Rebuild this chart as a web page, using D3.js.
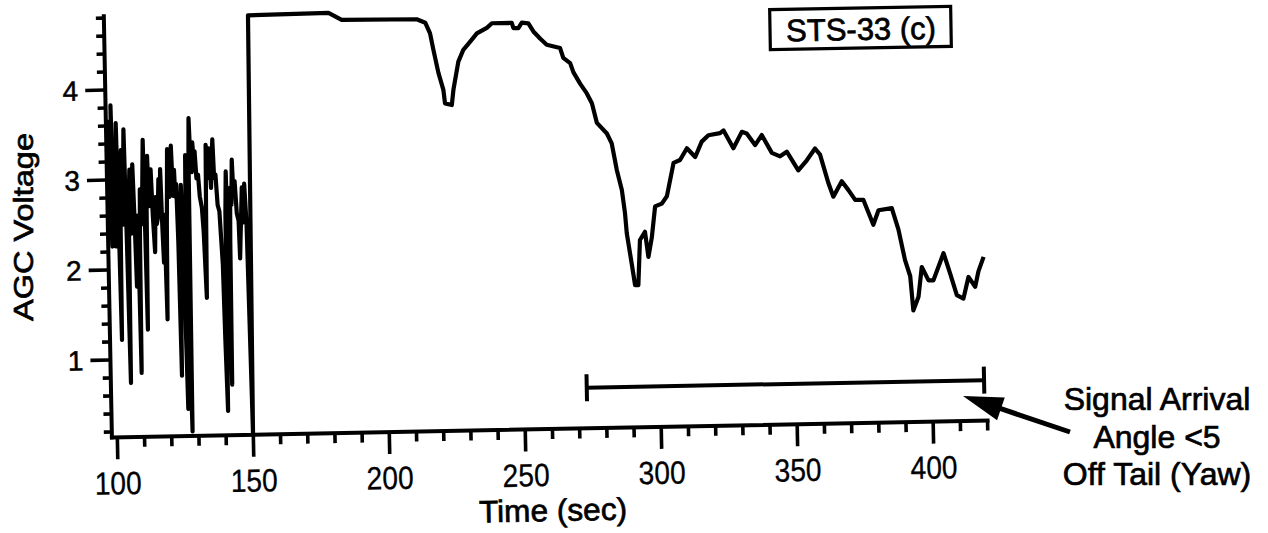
<!DOCTYPE html>
<html><head><meta charset="utf-8">
<script src="https://cdn.jsdelivr.net/npm/d3@7/dist/d3.min.js"></script>
<style>body{margin:0;background:#fff}svg{display:block}</style>
</head><body>
<script>
// ---- data ----
const timeSec = [
  98.6, 98.9, 99.2, 99.5, 99.8, 100.2, 100.5, 100.8, 101.2, 101.6,
  102.0, 102.4, 102.8, 103.3, 103.7, 104.1, 104.4, 104.9, 105.4, 105.8,
  106.3, 106.7, 107.0, 107.4, 107.9, 108.3, 108.8, 109.1, 109.4, 109.7,
  110.0, 110.5, 111.0, 111.4, 111.7, 112.0, 112.4, 112.9, 113.3, 113.7,
  114.1, 114.6, 115.2, 115.7, 116.0, 116.4, 116.9, 117.3, 117.6, 118.0,
  118.4, 118.8, 119.3, 119.7, 120.0, 120.3, 120.8, 121.2, 121.7, 122.2,
  122.7, 123.0, 123.4, 123.8, 124.2, 124.6, 125.1, 125.6, 126.3, 126.6,
  126.9, 127.3, 127.7, 128.1, 128.4, 128.8, 129.2, 129.6, 130.0, 130.4,
  130.9, 131.5, 132.0, 132.7, 133.2, 133.9, 134.2, 134.5, 135.0, 135.6,
  136.2, 136.6, 137.0, 137.4, 137.9, 138.5, 139.1, 139.6, 140.0, 140.4,
  140.9, 141.3, 141.7, 142.1, 142.6, 142.9, 143.2, 143.6, 144.0, 144.4,
  144.9, 145.5, 146.1, 146.4, 146.7, 147.1, 147.5, 147.9, 148.4, 149.0,
  149.9, 151.0,
  180.6, 185.4, 213.0, 216.1, 217.8, 218.9, 220.6, 222.3, 222.8, 225.3,
  226.0, 228.0, 229.9, 232.5, 235.0, 238.7, 240.6, 247.9, 248.5, 250.3,
  251.6, 254.0, 255.8, 258.2, 260.6, 265.5, 266.6, 269.1, 270.2, 272.6,
  275.0, 276.8, 278.5, 282.1, 283.8, 285.5, 287.2, 288.2, 288.7, 290.3,
  291.4, 292.6, 293.5, 295.4, 296.5, 297.9, 299.3, 301.8, 303.7, 306.4,
  308.8, 311.4, 314.4, 316.9, 319.4, 323.7, 325.0, 328.5, 331.7, 333.5,
  336.5, 339.0, 342.6, 345.6, 348.1, 352.2, 355.4, 358.5, 360.3, 363.2,
  364.9, 368.1, 370.5, 372.9, 375.9, 379.4, 381.4, 386.3, 388.6, 390.8,
  392.6, 393.5, 395.5, 396.9, 399.3, 401.1, 405.0, 407.3, 409.6, 412.0,
  414.0, 416.4, 417.7, 419.7
];
const agcVoltage = [
  3.67, 2.40, 3.50, 2.26, 3.83, 2.80, 3.40, 2.26, 3.00, 3.63,
  2.60, 1.22, 2.90, 3.33, 2.50, 3.20, 3.56, 2.30, 0.74, 2.70,
  3.11, 2.40, 2.90, 3.17, 2.50, 1.81, 2.60, 2.20, 0.85, 2.30,
  2.89, 2.50, 3.00, 3.44, 2.40, 1.33, 2.80, 3.26, 2.70, 3.00,
  3.11, 2.60, 2.19, 2.80, 2.50, 2.56, 3.00, 2.70, 3.11, 2.50,
  2.07, 2.60, 1.44, 2.50, 2.90, 3.33, 2.80, 3.10, 3.37, 2.81,
  3.10, 2.80, 2.94, 2.30, 0.81, 2.50, 2.93, 2.20, 0.44, 2.50,
  3.26, 1.20, 0.19, 3.20, 3.67, 3.20, 3.07, 3.40, 3.20, 3.30,
  3.00, 3.04, 2.80, 2.67, 2.40, 1.67, 2.60, 3.37, 3.00, 3.33,
  2.89, 3.20, 3.43, 3.00, 3.04, 2.70, 2.63, 2.30, 2.04, 1.20,
  0.41, 2.60, 3.07, 2.00, 0.70, 2.30, 2.89, 2.70, 3.20, 2.80,
  2.96, 2.60, 2.52, 2.10, 2.33, 2.60, 2.89, 2.50, 2.93, 2.48,
  0.15, 4.80,
  4.81, 4.73, 4.72, 4.68, 4.56, 4.38, 4.12, 3.93, 3.78, 3.76,
  3.93, 4.24, 4.37, 4.46, 4.55, 4.61, 4.66, 4.66, 4.60, 4.60,
  4.66, 4.65, 4.56, 4.48, 4.41, 4.37, 4.26, 4.20, 4.10, 3.97,
  3.86, 3.75, 3.53, 3.41, 3.30, 3.00, 2.78, 2.52, 2.30, 1.96,
  1.72, 1.72, 2.22, 2.31, 2.03, 2.25, 2.59, 2.62, 2.70, 3.07,
  3.10, 3.23, 3.13, 3.30, 3.37, 3.39, 3.42, 3.22, 3.40, 3.38,
  3.25, 3.36, 3.16, 3.12, 3.17, 2.96, 3.07, 3.20, 3.13, 2.81,
  2.66, 2.83, 2.73, 2.62, 2.62, 2.34, 2.50, 2.52, 2.28, 1.94,
  1.76, 1.38, 1.53, 1.86, 1.71, 1.71, 2.01, 1.78, 1.54, 1.50,
  1.74, 1.63, 1.80, 1.96
];
const xTickValues = [100, 150, 200, 250, 300, 350, 400];
const yTickValues = [1, 2, 3, 4];
const bracketTimes = [272.9, 419];
const bracketLevel = [0.59];
const annotationLines = ["Signal Arrival", "Angle <5", "Off Tail (Yaw)"];
const panelLabel = ["STS-33 (c)"];
const axisTitles = ["Time (sec)", "AGC Voltage"];

// ---- layout ----
const W = 1268, H = 533;
const svg = d3.select("body").append("svg").attr("width", W).attr("height", H)
  .style("font-family", "'Liberation Sans', Arial, Helvetica, sans-serif");

const x = d3.scaleLinear().domain([98, 420]).range([111.9, 987.7]);
const y = d3.scaleLinear().domain([0.14, 4.82]).range([437.4, 16.2]);

const ink = "#000";
const g = svg.append("g").attr("transform", "rotate(-1.1,112,437)");

// axes
const xMinor = d3.range(100, 421, 10);
const yMinor = d3.range(0.2, 4.81, 0.2).map(v => +v.toFixed(1));

g.append("line").attr("x1", x(98)).attr("x2", x(420)).attr("y1", y(0.14)).attr("y2", y(0.14))
  .attr("stroke", ink).attr("stroke-width", 4).attr("stroke-linecap", "square");
g.append("line").attr("x1", x(98)).attr("x2", x(98)).attr("y1", y(0.14)).attr("y2", y(4.82))
  .attr("stroke", ink).attr("stroke-width", 4).attr("stroke-linecap", "square");

g.selectAll(".xt").data(xMinor).join("line")
  .attr("x1", d => x(d)).attr("x2", d => x(d))
  .attr("y1", y(0.14)).attr("y2", d => y(0.14) + (d % 50 === 0 ? 22 : 10))
  .attr("stroke", ink).attr("stroke-width", 3.6);
g.selectAll(".yt").data(yMinor).join("line")
  .attr("y1", d => y(d)).attr("y2", d => y(d))
  .attr("x1", x(98)).attr("x2", d => x(98) - (Math.abs(d - Math.round(d)) < 1e-6 ? 20 : 8))
  .attr("stroke", ink).attr("stroke-width", 3.6);

g.selectAll(".xl").data(xTickValues).join("text")
  .attr("x", d => x(d)).attr("y", y(0.14) + 57)
  .attr("text-anchor", "middle").attr("font-size", 32)
  .attr("textLength", 47).attr("lengthAdjust", "spacingAndGlyphs")
  .attr("stroke", ink).attr("stroke-width", 0.3)
  .text(d => d);
g.selectAll(".yl").data(yTickValues).join("text")
  .attr("x", x(98) - 27).attr("y", d => y(d) + 10)
  .attr("text-anchor", "end").attr("font-size", 28)
  .attr("stroke", ink).attr("stroke-width", 0.5)
  .text(d => d);

// data line
const pts = timeSec.map((t, i) => [t, agcVoltage[i]]);
g.append("path").datum(pts)
  .attr("d", d3.line().x(d => x(d[0])).y(d => y(d[1])))
  .attr("fill", "none").attr("stroke", ink).attr("stroke-width", 4.2)
  .attr("stroke-linejoin", "round");

// bracket
const bl = bracketLevel[0];
g.append("line").attr("x1", x(bracketTimes[0])).attr("x2", x(bracketTimes[1]))
  .attr("y1", y(bl)).attr("y2", y(bl)).attr("stroke", ink).attr("stroke-width", 4);
g.selectAll(".cap").data(bracketTimes).join("line")
  .attr("x1", d => x(d)).attr("x2", d => x(d))
  .attr("y1", y(bl + 0.15)).attr("y2", y(bl - 0.15))
  .attr("stroke", ink).attr("stroke-width", 4);

// axis titles
svg.append("text").attr("x", 553).attr("y", 521).attr("text-anchor", "middle")
  .attr("font-size", 31).attr("textLength", 148).attr("lengthAdjust", "spacingAndGlyphs")
  .attr("stroke", ink).attr("stroke-width", 0.7)
  .attr("transform", "rotate(-1.1,553,510)")
  .text(axisTitles[0]);
svg.append("text").attr("transform", "translate(33,227) rotate(-90)")
  .attr("text-anchor", "middle").attr("font-size", 28)
  .attr("textLength", 188).attr("lengthAdjust", "spacingAndGlyphs")
  .attr("stroke", ink).attr("stroke-width", 0.7)
  .text(axisTitles[1]);

// panel label box
const box = svg.append("g").attr("transform", "rotate(-1,861,28)");
box.append("rect").attr("x", 770).attr("y", 8).attr("width", 181).attr("height", 40)
  .attr("fill", "none").attr("stroke", ink).attr("stroke-width", 3.2);
box.append("text").attr("x", 861).attr("y", 40).attr("text-anchor", "middle")
  .attr("font-size", 31).attr("stroke", ink).attr("stroke-width", 0.7)
  .text(panelLabel[0]);

// annotation
svg.selectAll(".ann").data(annotationLines).join("text")
  .attr("x", 1157).attr("y", (d, i) => 410 + i * 37.5)
  .attr("text-anchor", "middle").attr("font-size", 32)
  .attr("stroke", ink).attr("stroke-width", 0.7)
  .text(d => d);

// arrow
const tail = [1070, 432], tip = [963, 396];
const dx = tip[0] - tail[0], dy = tip[1] - tail[1], L = Math.hypot(dx, dy);
const ux = dx / L, uy = dy / L, hl = 40, hw = 12;
const base = [tip[0] - ux * hl, tip[1] - uy * hl];
svg.append("line").attr("x1", tail[0]).attr("y1", tail[1]).attr("x2", base[0] + ux * 4).attr("y2", base[1] + uy * 4)
  .attr("stroke", ink).attr("stroke-width", 5);
svg.append("path").attr("d", d3.line()([
  tip, [base[0] - uy * hw, base[1] + ux * hw], [base[0] + uy * hw, base[1] - ux * hw]
]) + "Z").attr("fill", ink);
</script>
</body></html>
